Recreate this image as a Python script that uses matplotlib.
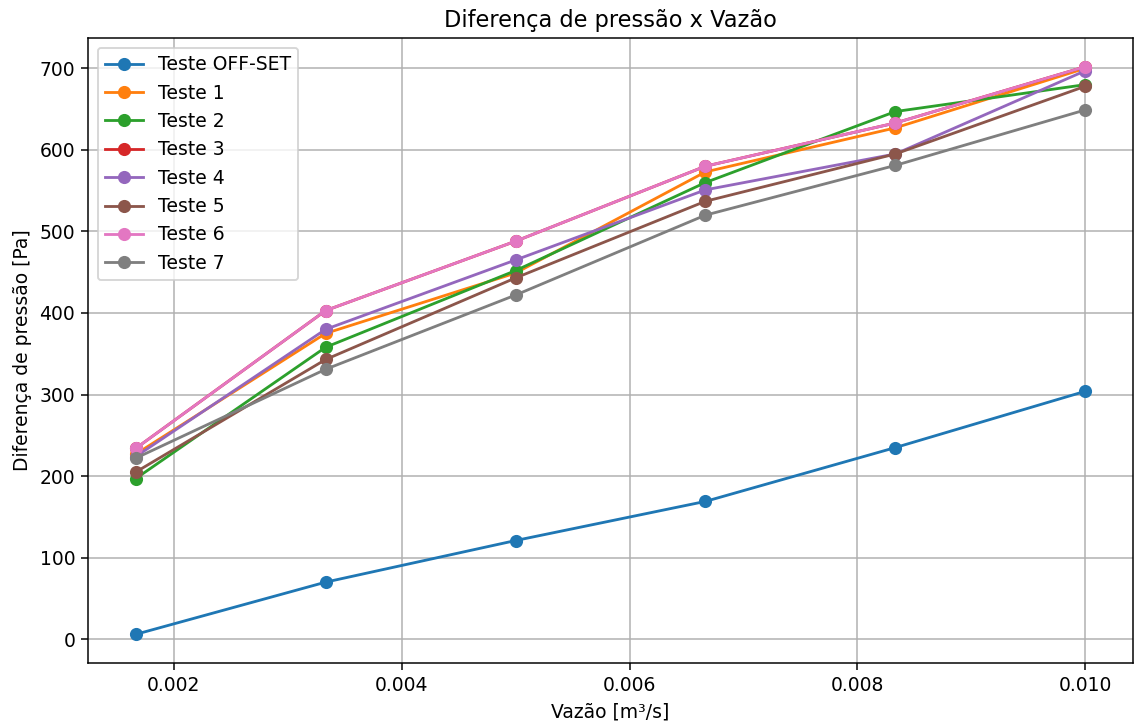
import numpy as np
import matplotlib.pyplot as plt

# Vazão (m³/s)
vazao = [0.1 / 60, 0.2 / 60, 0.3 / 60, 0.4 / 60, 0.5 / 60, 0.6 / 60]

offset = [6, 70, 121, 169, 235, 304]
teste1 = [227, 375, 449, 573, 627, 700]
teste2 = [197, 358, 452, 560, 647, 680]
teste3 = [234, 403, 488, 580, 633, 702]
teste4 = [224, 380, 465, 551, 595, 697]
teste5 = [205, 343, 443, 537, 595, 678]
teste6 = [234, 403, 488, 580, 633, 702]
teste7 = [222, 331, 422, 520, 581, 649]

series = [
    ('Teste OFF-SET', offset),
    ('Teste 1', teste1),
    ('Teste 2', teste2),
    ('Teste 3', teste3),
    ('Teste 4', teste4),
    ('Teste 5', teste5),
    ('Teste 6', teste6),
    ('Teste 7', teste7),
]

dpi = 135
fig, ax = plt.subplots(figsize=(1135 / dpi, 723 / dpi), dpi=dpi)
fig.subplots_adjust(left=0.0778, right=0.998, top=0.947, bottom=0.0834)

for label, vals in series:
    ax.plot(vazao, vals, marker='o', label=label)

ax.set_title('Diferença de pressão x Vazão')
ax.set_xlabel('Vazão [m³/s]')
ax.set_ylabel('Diferença de pressão [Pa]')
ax.grid(True)
ax.legend(loc='upper left')

plt.savefig('out.png', dpi=dpi)
